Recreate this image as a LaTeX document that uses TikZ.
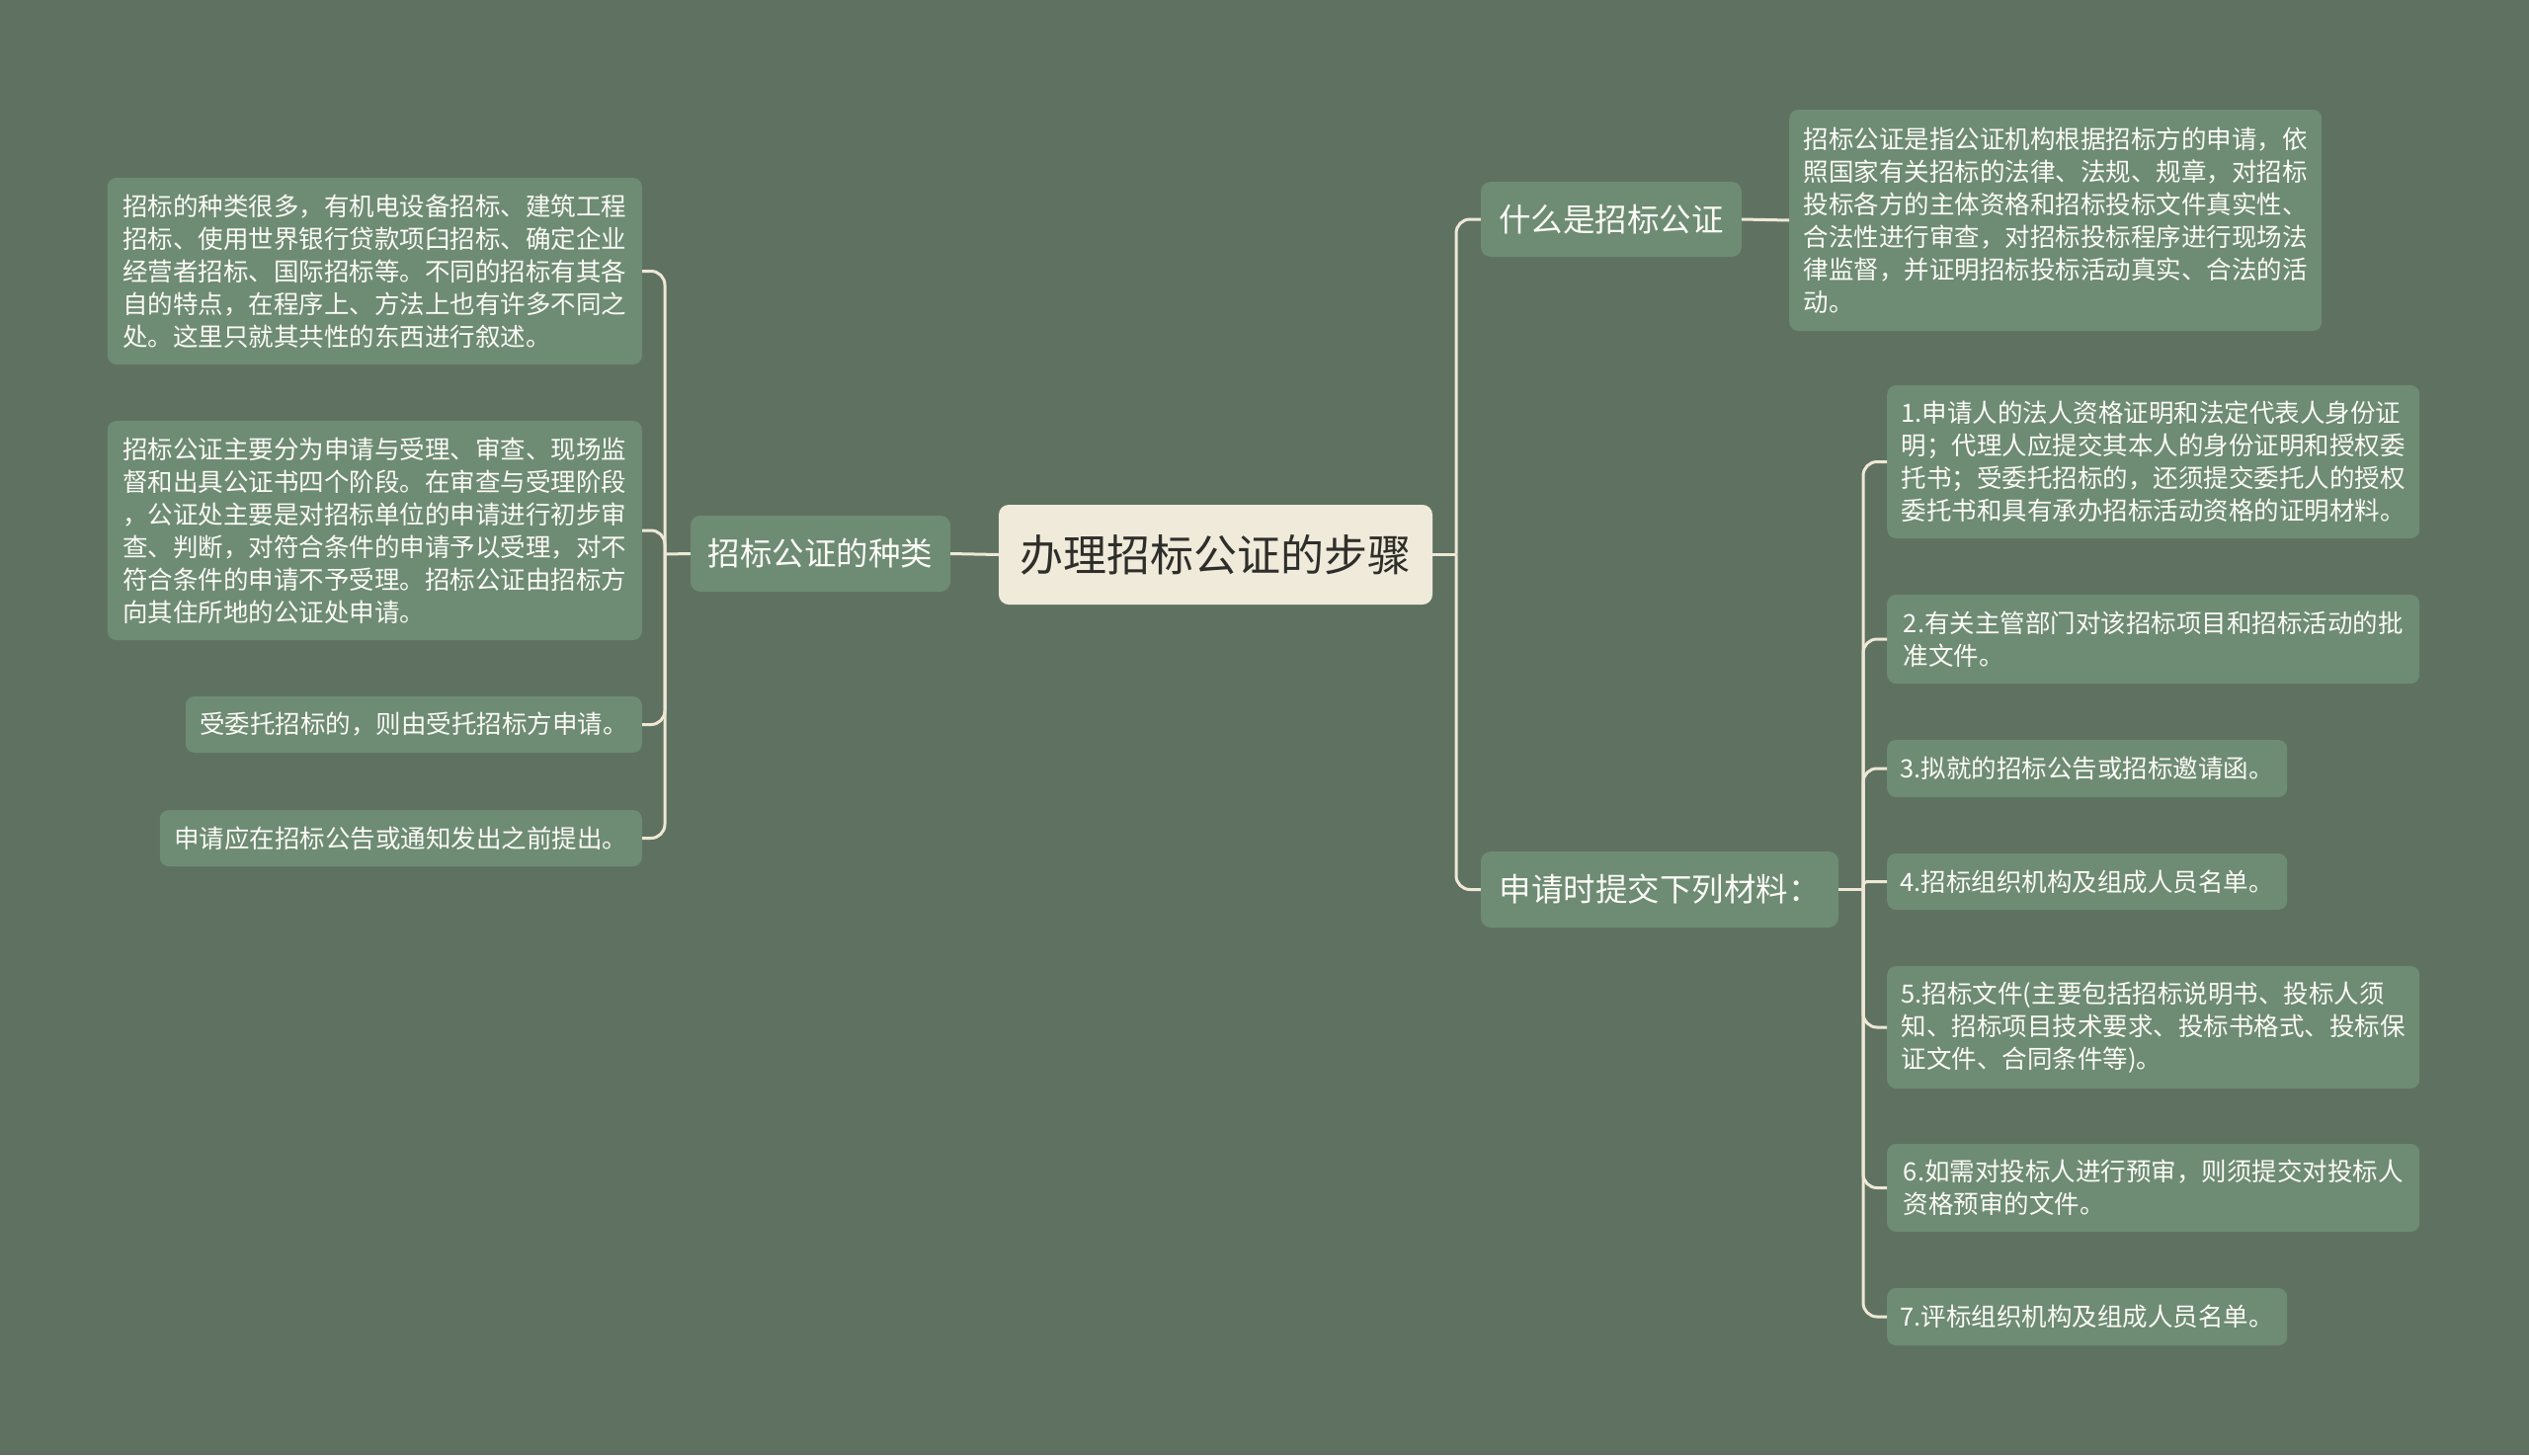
\documentclass[tikz,border=0pt]{standalone}
\usepackage{fontspec}
\setmainfont{Noto Sans CJK SC}
\definecolor{bg}{HTML}{5F7262}
\definecolor{nodefill}{HTML}{6E8B74}
\definecolor{rootfill}{HTML}{EFEADA}
\definecolor{linec}{HTML}{EEE8D5}
\definecolor{leaftext}{HTML}{FBFBF6}
\definecolor{roottext}{HTML}{2E2E2A}
\begin{document}
\begin{tikzpicture}[x=1pt,y=-1pt,
  leaf/.style={fill=nodefill, rounded corners=9pt, text=leaftext,
    font=\fontsize{25.5}{33}\selectfont, align=left, inner xsep=13pt, inner ysep=0pt},
  mid/.style={fill=nodefill, rounded corners=10pt, text=leaftext,
    font=\fontsize{32.5}{38}\selectfont, inner sep=0pt},
  rootbox/.style={fill=rootfill, rounded corners=10pt, text=roottext,
    font=\fontsize{44}{50}\selectfont, inner sep=0pt},
  conn/.style={draw=linec, line width=3pt, rounded corners=14pt},
  stub/.style={draw=linec, line width=3pt}]
\fill[bg] (0,0) rectangle (2560,1473);
\useasboundingbox (0,0) rectangle (2560,1473);

% central and main branches
\node[rootbox, minimum width=439pt, minimum height=101pt] (root) at (1230.5,561.5) {办理招标公证的步骤};
\node[mid, minimum width=263pt, minimum height=77pt] (kinds) at (830.5,560.5) {招标公证的种类};
\node[mid, minimum width=264pt, minimum height=76pt] (what) at (1631,222) {什么是招标公证};
\node[mid, minimum width=362pt, minimum height=77pt] (apply) at (1680,900.5) {申请时提交下列材料：};

% left leaves
\node[leaf, anchor=east, minimum width=541pt, minimum height=189pt] (L1) at (650,274.5)
 {招标的种类很多，有机电设备招标、建筑工程\\招标、使用世界银行贷款项臼招标、确定企业\\经营者招标、国际招标等。不同的招标有其各\\自的特点，在程序上、方法上也有许多不同之\\处。这里只就其共性的东西进行叙述。};
\node[leaf, anchor=east, minimum width=541pt, minimum height=222pt] (L2) at (650,537)
 {招标公证主要分为申请与受理、审查、现场监\\督和出具公证书四个阶段。在审查与受理阶段\\，公证处主要是对招标单位的申请进行初步审\\查、判断，对符合条件的申请予以受理，对不\\符合条件的申请不予受理。招标公证由招标方\\向其住所地的公证处申请。};
\node[leaf, anchor=east, minimum width=462pt, minimum height=57pt] (L3) at (650,733.5)
 {受委托招标的，则由受托招标方申请。};
\node[leaf, anchor=east, minimum width=488pt, minimum height=57pt] (L4) at (650,848.5)
 {申请应在招标公告或通知发出之前提出。};

% right leaves
\node[leaf, anchor=west, minimum width=539pt, minimum height=224pt] (W) at (1811,223)
 {招标公证是指公证机构根据招标方的申请，依\\照国家有关招标的法律、法规、规章，对招标\\投标各方的主体资格和招标投标文件真实性、\\合法性进行审查，对招标投标程序进行现场法\\律监督，并证明招标投标活动真实、合法的活\\动。};
\node[leaf, anchor=west, minimum width=539pt, minimum height=155pt] (R1) at (1910,467.5)
 {1.申请人的法人资格证明和法定代表人身份证\\明；代理人应提交其本人的身份证明和授权委\\托书；受委托招标的，还须提交委托人的授权\\委托书和具有承办招标活动资格的证明材料。};
\node[leaf, anchor=west, minimum width=539pt, minimum height=90pt] (R2) at (1910,647)
 {2.有关主管部门对该招标项目和招标活动的批\\准文件。};
\node[leaf, anchor=west, minimum width=405pt, minimum height=58pt] (R3) at (1910,778)
 {3.拟就的招标公告或招标邀请函。};
\node[leaf, anchor=west, minimum width=405pt, minimum height=57pt] (R4) at (1910,892.5)
 {4.招标组织机构及组成人员名单。};
\node[leaf, anchor=west, minimum width=539pt, minimum height=124pt] (R5) at (1910,1040)
 {5.招标文件(主要包括招标说明书、投标人须\\知、招标项目技术要求、投标书格式、投标保\\证文件、合同条件等)。};
\node[leaf, anchor=west, minimum width=539pt, minimum height=89pt] (R6) at (1910,1202.5)
 {6.如需对投标人进行预审，则须提交对投标人\\资格预审的文件。};
\node[leaf, anchor=west, minimum width=405pt, minimum height=58pt] (R7) at (1910,1333)
 {7.评标组织机构及组成人员名单。};

% junctions
\coordinate (jL) at (673,561);
\coordinate (jR) at (1474,561.5);
\coordinate (jA) at (1886,900.5);

% connectors
\draw[stub] (root.west) -- (kinds.east);
\draw[stub] (kinds.west) -- (jL);
\draw[conn] (jL) |- (L1.east);
\draw[conn] (jL) |- (L2.east);
\draw[conn] (jL) |- (L3.east);
\draw[conn] (jL) |- (L4.east);

\draw[stub] (root.east) -- (jR);
\draw[conn] (jR) |- (what.west);
\draw[conn] (jR) |- (apply.west);
\draw[stub] (what.east) -- (W.west);

\draw[stub] (apply.east) -- (jA);
\draw[conn] (jA) |- (R1.west);
\draw[conn] (jA) |- (R2.west);
\draw[conn] (jA) |- (R3.west);
\draw[conn, rounded corners=4pt] (jA) |- (R4.west);
\draw[conn] (jA) |- (R5.west);
\draw[conn] (jA) |- (R6.west);
\draw[conn] (jA) |- (R7.west);
\end{tikzpicture}
\end{document}
